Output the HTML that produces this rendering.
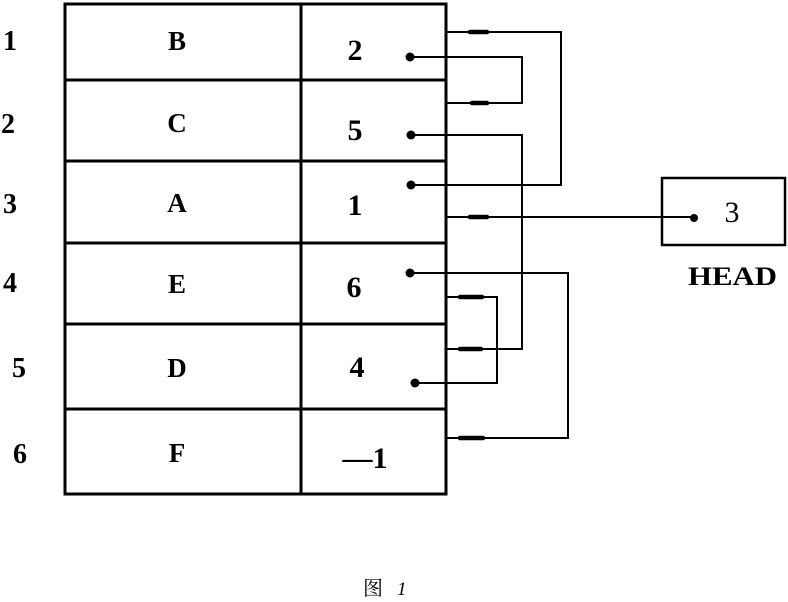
<!DOCTYPE html>
<html>
<head>
<meta charset="utf-8">
<style>
  html, body { margin: 0; padding: 0; background: #fff; }
  body { width: 788px; height: 602px; overflow: hidden; }
  svg { display: block; }
  .t { font-family: "Liberation Serif", "Noto Serif CJK SC", serif; font-weight: bold; fill: #000; }
</style>
</head>
<body>
<svg width="788" height="602" viewBox="0 0 788 602" xmlns="http://www.w3.org/2000/svg">
  <!-- table -->
  <g stroke="#000" stroke-width="3" fill="none" stroke-linecap="square">
    <rect x="65" y="4" width="381" height="490"/>
    <line x1="301" y1="4" x2="301" y2="494"/>
    <line x1="65" y1="80" x2="446" y2="80"/>
    <line x1="65" y1="161" x2="446" y2="161"/>
    <line x1="65" y1="243" x2="446" y2="243"/>
    <line x1="65" y1="324" x2="446" y2="324"/>
    <line x1="65" y1="409" x2="446" y2="409"/>
  </g>

  <!-- row labels -->
  <g class="t" font-size="28" text-anchor="middle">
    <text x="10" y="50">1</text>
    <text x="8" y="133">2</text>
    <text x="10" y="213">3</text>
    <text x="10" y="292">4</text>
    <text x="19" y="377">5</text>
    <text x="20" y="463">6</text>
  </g>

  <!-- letters -->
  <g class="t" font-size="27" text-anchor="middle">
    <text x="177" y="50">B</text>
    <text x="177" y="132">C</text>
    <text x="177" y="212">A</text>
    <text x="177" y="293">E</text>
    <text x="177" y="377">D</text>
    <text x="177" y="462">F</text>
  </g>

  <!-- values -->
  <g class="t" font-size="30" text-anchor="middle">
    <text x="355" y="60">2</text>
    <text x="355" y="140">5</text>
    <text x="355" y="215">1</text>
    <text x="354" y="297">6</text>
    <text x="357" y="377">4</text>
    <text x="365" y="468">—1</text>
  </g>

  <!-- connectors -->
  <g stroke="#000" stroke-width="2" fill="none">
    <!-- row1 -> row2 -->
    <polyline points="410,57 522,57 522,103 447,103"/>
    <!-- row3 -> row1 -->
    <polyline points="410,185 561,185 561,32 447,32"/>
    <!-- row2 -> row5 -->
    <polyline points="410,135 522,135 522,349 447,349"/>
    <!-- HEAD -> row3 -->
    <polyline points="694,217 447,217"/>
    <!-- row4 -> row6 -->
    <polyline points="410,273 568,273 568,438 447,438"/>
    <!-- row5 -> row4 -->
    <polyline points="415,383 497,383 497,297 447,297"/>
  </g>

  <!-- thick arrow blobs -->
  <g stroke="#000" stroke-width="4.5" stroke-linecap="round">
    <line x1="470" y1="32" x2="487" y2="32"/>
    <line x1="472" y1="103" x2="487" y2="103"/>
    <line x1="470" y1="217" x2="487" y2="217"/>
    <line x1="460" y1="297" x2="482" y2="297"/>
    <line x1="460" y1="349" x2="481" y2="349"/>
    <line x1="460" y1="438" x2="483" y2="438"/>
  </g>

  <!-- dots -->
  <g fill="#000">
    <circle cx="410" cy="57" r="4.5"/>
    <circle cx="411" cy="135" r="4.5"/>
    <circle cx="411" cy="185" r="4.5"/>
    <circle cx="410" cy="273" r="4.5"/>
    <circle cx="415" cy="383" r="4.5"/>
    <circle cx="694" cy="218" r="4"/>
  </g>

  <!-- HEAD box -->
  <rect x="662" y="178" width="123" height="67" fill="none" stroke="#000" stroke-width="2.5"/>
  <text x="732" y="222" font-family="Liberation Serif, serif" font-size="30" text-anchor="middle" fill="#000">3</text>
  <text x="688" y="285" class="t" font-size="26" textLength="89" lengthAdjust="spacingAndGlyphs">HEAD</text>

  <!-- caption -->
  <text x="363" y="595" font-family="Liberation Serif, Noto Serif CJK SC, serif" font-size="20" fill="#000">图</text>
  <text x="397" y="595" font-family="Liberation Serif, serif" font-style="italic" font-size="19" fill="#000">1</text>
</svg>
</body>
</html>
